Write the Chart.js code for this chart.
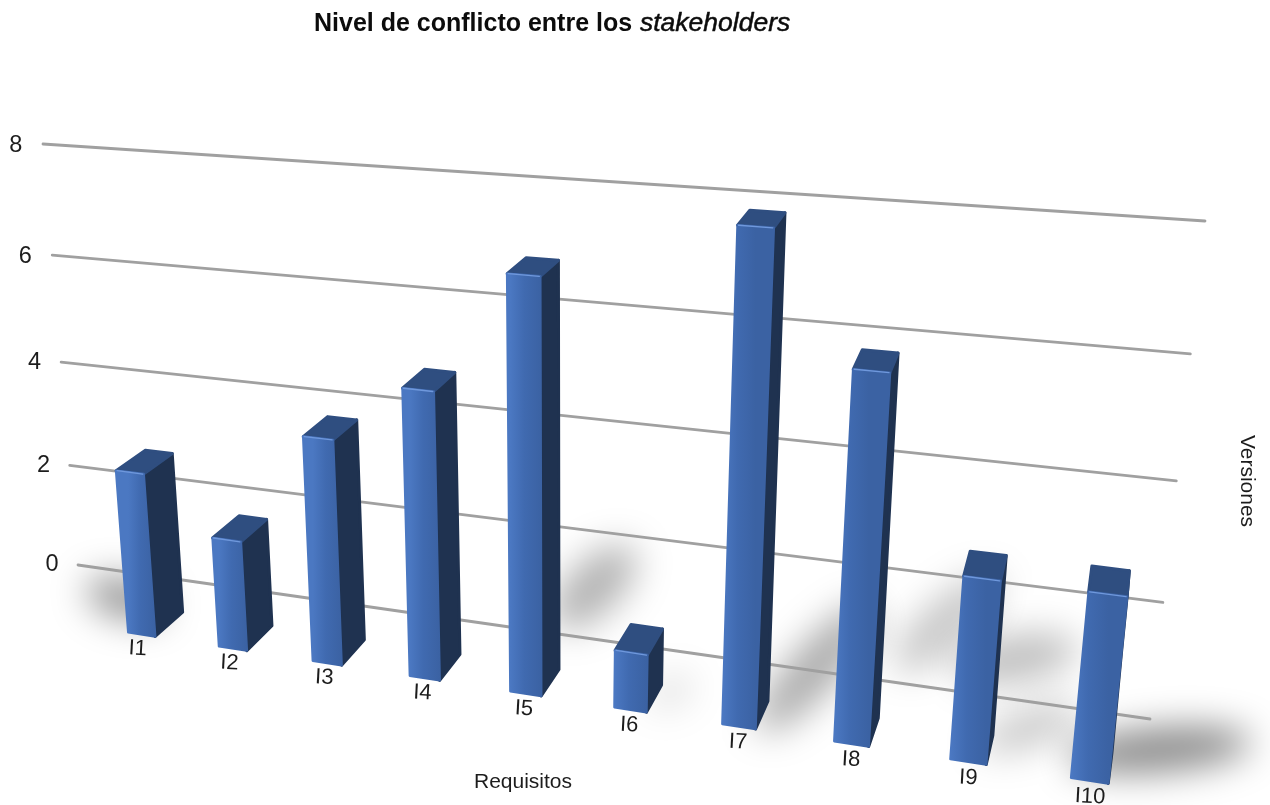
<!DOCTYPE html>
<html><head><meta charset="utf-8">
<style>html,body{margin:0;padding:0;background:#fff}canvas{display:block;filter:blur(.7px)}</style>
<script src="https://cdn.jsdelivr.net/npm/chart.js@4"></script></head>
<body><canvas id="c" width="1270" height="805"></canvas>
<script>
const categories=['I1','I2','I3','I4','I5','I6','I7','I8','I9','I10'];
const conflictValues=[3,2,4,5,7,1,8,6,3,3];
const yMax=8, yStep=2;
const titleBold='Nivel de conflicto entre los ';
const titleItalic='stakeholders';
const xTitle='Requisitos', yTitle='Versiones';

// perspective planes: anchors [u, value, screenX, screenY]
const wallAnchors=[[0,0,78,565],[1,0,1150,719],[1,8,1205,221],[0,8,43,144]];
const frontAnchors=[[.05,0,141.5,633.5],[.05,3,130,473.5],[.15,0,232,648.5],[.15,2,226.5,540],
[.25,0,327.5,662.5],[.25,4,318.5,439.5],[.45,0,526,693],[.45,7,524.5,275],[.55,0,630.5,710],[.55,1,631,652.5],
[.65,0,739,726],[.65,8,755,225],[.75,0,852.5,744],[.75,6,871.5,371],[.95,0,1089.5,781],[.95,3,1107,595]];
const backAnchors=[[.05,0,169,610],[.05,3,159,452],[.15,0,258,623],[.15,2,254,517.5],[.45,0,543,670],[.45,7,541,260],
[.55,0,645,681],[.55,1,647.5,626],[.65,0,751,701],[.65,8,768,210.5],[.75,0,865,712],[.75,6,880,352],[.95,0,1092,752],[.95,3,1110.5,568]];
// soft floor shadows: [bar index, dx, dy from the bar's rear foot, rx, ry, angle deg, alpha]
const shadowStyle=[[0,-44,-12,40,20,15,.42],[4,50,-80,54,26,-45,.3],[5,25,9,24,14,-30,.13],[6,64,-31,84,24,-48,.33],
[7,85,-92,68,24,-42,.22],[7,155,-57,62,24,-10,.25],[8,55,-5,54,18,-20,.22],[9,66,-1,92,22,-5,.46]];

function solve(A,b){const n=b.length;for(let i=0;i<n;i++){let p=i;for(let r=i+1;r<n;r++)if(Math.abs(A[r][i])>Math.abs(A[p][i]))p=r;
 [A[i],A[p]]=[A[p],A[i]];[b[i],b[p]]=[b[p],b[i]];
 for(let r=i+1;r<n;r++){const f=A[r][i]/A[i][i];for(let c=i;c<n;c++)A[r][c]-=f*A[i][c];b[r]-=f*b[i];}}
 const x=new Array(n);for(let i=n-1;i>=0;i--){let s=b[i];for(let c=i+1;c<n;c++)s-=A[i][c]*x[c];x[i]=s/A[i][i];}return x;}
function fitPlane(anchors){const rows=[],rhs=[];
 anchors.forEach(([u,val,x,y])=>{const v=val/yMax;
  rows.push([u,v,1,0,0,0,-x*u,-x*v]);rhs.push(x);rows.push([0,0,0,u,v,1,-y*u,-y*v]);rhs.push(y);});
 const A=Array.from({length:8},()=>new Array(8).fill(0)),b=new Array(8).fill(0);
 rows.forEach((r,k)=>{for(let i=0;i<8;i++){b[i]+=r[i]*rhs[k];for(let j=0;j<8;j++)A[i][j]+=r[i]*r[j];}});
 const h=solve(A,b);
 return (u,v)=>{const w=h[6]*u+h[7]*v+1;return [(h[0]*u+h[1]*v+h[2])/w,(h[3]*u+h[4]*v+h[5])/w];};}
const wall=fitPlane(wallAnchors),front=fitPlane(frontAnchors),back=fitPlane(backAnchors);

function poly(ctx,pts,fill,lw){ctx.beginPath();pts.forEach((p,i)=>i?ctx.lineTo(p[0],p[1]):ctx.moveTo(p[0],p[1]));ctx.closePath();
 ctx.fillStyle=fill;ctx.fill();ctx.strokeStyle=fill;ctx.lineJoin='round';ctx.lineWidth=lw;ctx.stroke();}

const perspectivePlugin={id:'perspective',
 beforeDatasetsDraw(chart){
  const ctx=chart.ctx,a=chart.chartArea,xS=chart.scales.x,yS=chart.scales.y;
  const nx=p=>(p-a.left)/(a.right-a.left), ny=p=>(a.bottom-p)/(a.bottom-a.top);
  const bars=chart.getDatasetMeta(0).data;
  ctx.save();
  // floor shadows
  ctx.filter='blur(18px)';
  shadowStyle.forEach(([i,dx,dy,rx,ry,ang,al])=>{
   const el=bars[i],b=back(nx(el.x),ny(el.base));
   ctx.beginPath();ctx.ellipse(b[0]+dx,b[1]+dy,rx,ry,ang*Math.PI/180,0,Math.PI*2);
   ctx.fillStyle='rgba(0,0,0,'+al+')';ctx.fill();
  });
  ctx.filter='none';
  // grid lines from y scale ticks
  ctx.strokeStyle='#a0a0a0';ctx.lineWidth=2.8;ctx.lineCap='round';
  yS.ticks.forEach(t=>{const v=ny(yS.getPixelForValue(t.value)),p=wall(0,v),q=wall(1,v);
   ctx.beginPath();ctx.moveTo(p[0],p[1]);ctx.lineTo(q[0],q[1]);ctx.stroke();});
  // bars
  bars.forEach(el=>{
   const uL=nx(el.x-el.width/2),uR=nx(el.x+el.width/2),vT=ny(el.y),vB=ny(el.base);
   const fTL=front(uL,vT),fTR=front(uR,vT),fBL=front(uL,vB),fBR=front(uR,vB);
   const bTL=back(uL,vT),bTR=back(uR,vT),bBR=back(uR,vB);
   poly(ctx,[fTR,bTR,bBR,fBR],'#1f3250',3);
   poly(ctx,[fTL,bTL,bTR,fTR],'#2f4e80',3);
   const g=ctx.createLinearGradient(fBL[0],0,fBR[0],0);
   g.addColorStop(0,'#4b78c2');g.addColorStop(.45,'#406ab0');g.addColorStop(1,'#3b62a3');
   poly(ctx,[fTL,fTR,fBR,fBL],g,2.5);
   ctx.strokeStyle='#6f98dc';ctx.lineWidth=1.3;ctx.beginPath();ctx.moveTo(fTL[0]+1,fTL[1]);ctx.lineTo(fTR[0]-1,fTR[1]);ctx.stroke();
  });
  // text
  ctx.fillStyle='#1c1c1c';ctx.textBaseline='middle';ctx.textAlign='center';
  ctx.font='23.5px "Liberation Sans"';
  yS.ticks.forEach(t=>{const p=wall(-.024,ny(yS.getPixelForValue(t.value)));ctx.fillText(t.label,p[0]-4.5,p[1]+3);});
  ctx.font='22px "Liberation Sans"';
  xS.ticks.forEach((t,i)=>{const u=nx(xS.getPixelForValue(i)),p=front(u,-.033);
   ctx.save();ctx.translate(p[0]-5+7*(u-.05)/.9,p[1]+.5);ctx.rotate(3*Math.PI/180);ctx.fillText(categories[i],0,0);ctx.restore();});
  ctx.font='21px "Liberation Sans"';
  ctx.fillText(xTitle,523,782);
  ctx.save();ctx.translate(1247,481);ctx.rotate(Math.PI/2);ctx.fillText(yTitle,0,0);ctx.restore();
  ctx.textAlign='left';ctx.textBaseline='alphabetic';ctx.fillStyle='#0c0c0c';
  ctx.font='bold 25px "Liberation Sans"';ctx.fillText(titleBold,314,31);
  ctx.font='italic 26.5px "Liberation Sans"';ctx.fillText(titleItalic,640,31);
  ctx.strokeStyle='#0c0c0c';ctx.lineWidth=.5;ctx.strokeText(titleItalic,640,31);
  ctx.restore();
  return false;
 }};

new Chart(document.getElementById('c'),{type:'bar',
 data:{labels:categories,datasets:[{label:xTitle,data:conflictValues,backgroundColor:'#406ab0',barPercentage:.3,categoryPercentage:1}]},
 options:{responsive:false,animation:false,layout:{padding:0},
  plugins:{legend:{display:false},tooltip:{enabled:false},title:{display:false,text:titleBold+titleItalic}},
  scales:{x:{display:false,title:{text:xTitle}},y:{display:false,min:0,max:yMax,ticks:{stepSize:yStep},title:{text:yTitle}}}},
 plugins:[perspectivePlugin]});
</script></body></html>
